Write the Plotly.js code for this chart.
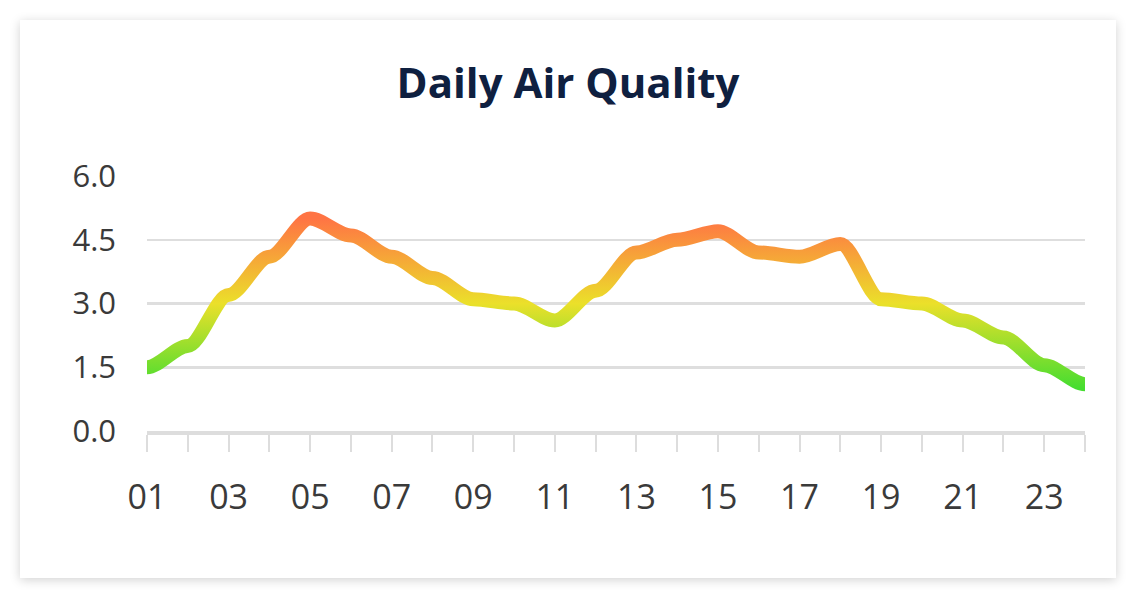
<!DOCTYPE html>
<html>
<head>
<meta charset="utf-8">
<script src="https://cdn.plot.ly/plotly-3.0.1.min.js"></script>
<style>
  html, body { margin: 0; padding: 0; background: #fff; }
  #card {
    position: absolute; left: 20px; top: 20px; width: 1096px; height: 558px;
    background: #fff; box-shadow: 0 2px 10px rgba(0,0,0,0.18);
  }
  #chart { width: 1096px; height: 558px; }
</style>
</head>
<body>
<div id="card"><div id="chart"></div></div>
<script>
// hourly readings, 01..24
const hours  = [1, 2, 3, 4, 5, 6, 7, 8, 9, 10, 11, 12, 13, 14, 15, 16, 17, 18, 19, 20, 21, 22, 23, 24];
const labels = ['01', '', '03', '', '05', '', '07', '', '09', '', '11', '',
                '13', '', '15', '', '17', '', '19', '', '21', '', '23', ''];
const aqi    = [1.5, 2.0, 3.2, 4.1, 5.0, 4.6, 4.1, 3.6, 3.1, 3.0, 2.6, 3.3,
                4.2, 4.5, 4.7, 4.2, 4.1, 4.4, 3.1, 3.0, 2.6, 2.2, 1.55, 1.1];

// colour stops by value (green -> yellow -> orange)
const stopVals   = [1.0, 3.0, 5.0];
const stopColors = ['#45dd30', '#ebe02a', '#ff7444'];

const el = document.getElementById('chart');
const tickFont = { family: 'Open Sans, sans-serif', size: 31, color: '#3a3a3a' };

Plotly.newPlot(el, [{
    type: 'scatter', mode: 'lines',
    x: hours, y: aqi,
    line: { shape: 'spline', smoothing: 0.8, width: 14, color: '#ebe02a' },
    hoverinfo: 'none',
}], {
    title: {
        text: '<b>Daily Air Quality</b>',
        x: 0.5, xanchor: 'center', y: 0.886, yanchor: 'middle',
        font: { family: 'Open Sans, sans-serif', size: 42, color: '#0f2040' },
    },
    showlegend: false,
    paper_bgcolor: '#fff', plot_bgcolor: '#fff',
    margin: { t: 156, r: 31, b: 147, l: 127 },
    xaxis: {
        range: [1, 24], tickvals: hours, ticktext: labels,
        ticks: 'outside', ticklen: 17, tickwidth: 2, tickcolor: '#dddddd',
        showline: true, linecolor: '#dddddd', linewidth: 4,
        showgrid: false, zeroline: false,
        tickfont: { ...tickFont, size: 34 }, ticklabelstandoff: 16,
    },
    yaxis: {
        range: [0, 6], tickvals: [0, 1.5, 3, 4.5, 6], tickformat: '.1f',
        showgrid: true, gridcolor: '#dedede', gridwidth: 2.5,
        zeroline: false, showline: false, ticks: '',
        tickfont: tickFont, ticklabelstandoff: 30,
    },
}, { displayModeBar: false, staticPlot: true }).then(gd => {
    const xa  = gd._fullLayout.xaxis;
    const ya  = gd._fullLayout.yaxis;

    // reshape the line: flat tangent at each reading, as in the source chart
    const k = 0.3;
    const pts = hours.map((h, i) => [xa.l2p(h), ya.l2p(aqi[i])]);
    let d = 'M' + pts[0][0] + ',' + pts[0][1];
    for (let i = 1; i < pts.length; i++) {
        const [x0, y0] = pts[i - 1], [x1, y1] = pts[i];
        const dx = x1 - x0;
        d += 'C' + (x0 + k * dx) + ',' + y0 + ' ' + (x1 - k * dx) + ',' + y1 + ' ' + x1 + ',' + y1;
    }

    // vertical gradient on the line, mapped to y values
    const svg = gd.querySelector('svg.main-svg');
    const ns  = 'http://www.w3.org/2000/svg';
    const defs = svg.querySelector('defs');
    const grad = document.createElementNS(ns, 'linearGradient');
    grad.setAttribute('id', 'aqiGrad');
    grad.setAttribute('gradientUnits', 'userSpaceOnUse');
    grad.setAttribute('x1', 0); grad.setAttribute('x2', 0);
    grad.setAttribute('y1', ya.l2p(stopVals[0]));
    grad.setAttribute('y2', ya.l2p(stopVals[stopVals.length - 1]));
    const span = stopVals[stopVals.length - 1] - stopVals[0];
    stopVals.forEach((v, i) => {
        const s = document.createElementNS(ns, 'stop');
        s.setAttribute('offset', (v - stopVals[0]) / span);
        s.setAttribute('stop-color', stopColors[i]);
        grad.appendChild(s);
    });
    defs.appendChild(grad);

    gd.querySelectorAll('.scatterlayer .js-line').forEach(p => {
        p.setAttribute('d', d);
        p.style.stroke = 'url(#aqiGrad)';
        p.style.strokeLinecap = 'round';
        p.style.strokeLinejoin = 'round';
    });
});
</script>
</body>
</html>
